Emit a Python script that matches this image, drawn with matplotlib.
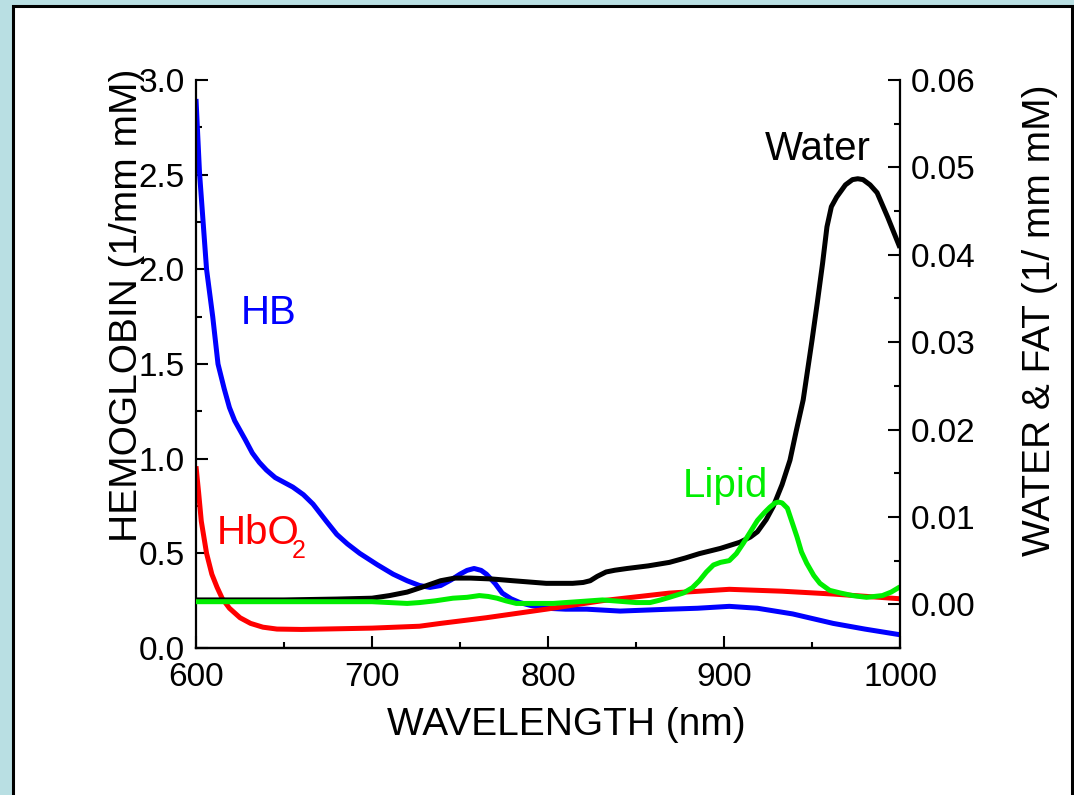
import matplotlib
matplotlib.use('Agg')
import matplotlib.pyplot as plt
from matplotlib.patches import Rectangle
from matplotlib.ticker import MultipleLocator, FormatStrFormatter

plt.rcParams['font.family'] = ['Liberation Sans', 'DejaVu Sans']

# --- Absorption spectra (wavelength in nm) ---
hb_nm = [600, 602, 606, 609.5, 612.5, 616, 619, 622, 625, 628, 632, 636, 640, 645, 649,
         655, 661, 666.5, 674, 680, 686, 693, 703, 712, 720, 727, 733, 739, 745, 750,
         754, 758, 762, 765, 770, 774, 779, 784, 790, 799, 810, 822, 841, 869, 885,
         903, 919, 939, 962, 980, 1000]
hb_val = [2.90, 2.51, 2.00, 1.75, 1.50, 1.37, 1.27, 1.20, 1.15, 1.10, 1.03, 0.98, 0.94,
          0.90, 0.88, 0.85, 0.81, 0.76, 0.67, 0.60, 0.55, 0.50, 0.44, 0.39, 0.355, 0.33,
          0.32, 0.33, 0.36, 0.39, 0.41, 0.42, 0.41, 0.39, 0.34, 0.29, 0.26, 0.24, 0.225,
          0.21, 0.205, 0.205, 0.195, 0.205, 0.21, 0.22, 0.21, 0.18, 0.13, 0.10, 0.07]

hbo2_nm = [600, 601.5, 603, 606, 609, 612, 615, 619, 625, 631, 638, 646, 660, 672,
           700, 727, 739, 765, 799, 831, 869, 903, 933, 962, 1000]
hbo2_val = [0.96, 0.82, 0.67, 0.50, 0.39, 0.32, 0.26, 0.21, 0.16, 0.13, 0.11, 0.10,
            0.098, 0.10, 0.105, 0.115, 0.13, 0.16, 0.205, 0.25, 0.29, 0.31, 0.30, 0.285,
            0.26]

water_nm = [600, 650, 680, 700, 710, 720, 729, 739, 747, 756, 768, 780, 799, 814,
            820, 824, 828, 833, 838, 845, 857, 869, 878, 886, 898, 909, 915, 919, 924,
            928, 933, 937.5, 941, 945, 950, 953, 956, 958.5, 961, 964, 969, 973, 976,
            979, 983, 987, 993, 1000]
water_val = [0.0005, 0.0005, 0.0006, 0.0007, 0.0010, 0.0014, 0.0020, 0.0027, 0.0030,
             0.0030, 0.0029, 0.0027, 0.0024, 0.0024, 0.0025, 0.0027, 0.0032, 0.0037,
             0.0039, 0.0041, 0.0044, 0.0048, 0.0053, 0.0058, 0.0064, 0.0071, 0.0077,
             0.0083, 0.0097, 0.0112, 0.0137, 0.0165, 0.0198, 0.0234, 0.0302, 0.0345,
             0.0390, 0.0432, 0.0455, 0.0466, 0.0480, 0.0486, 0.0487, 0.0486, 0.0480,
             0.0471, 0.0443, 0.0408]

lipid_nm = [600, 700, 720, 727, 736, 746, 754, 761, 766, 771, 776, 782, 790, 803, 831,
            850, 858, 864, 869, 877, 882, 886, 890, 894, 898, 903, 907, 911, 915, 919,
            923, 926, 929, 931, 933, 936, 938.5, 941.5, 944, 947, 951, 954.5, 960, 966,
            973, 981, 990, 995, 1000]
lipid_val = [0.0003, 0.0003, 0.0001, 0.0002, 0.0004, 0.0007, 0.0008, 0.0010, 0.0009,
             0.0007, 0.0004, 0.0001, 0.0001, 0.0001, 0.0005, 0.0002, 0.0002, 0.0005,
             0.0008, 0.0013, 0.0019, 0.0027, 0.0037, 0.0045, 0.0048, 0.0050, 0.0058,
             0.0070, 0.0083, 0.0096, 0.0105, 0.0111, 0.0116, 0.0117, 0.0116, 0.0110,
             0.0095, 0.0077, 0.0060, 0.0047, 0.0033, 0.0024, 0.0016, 0.0013, 0.0010,
             0.0008, 0.0010, 0.0014, 0.0020]

LW = 3.6

fig = plt.figure(figsize=(10.74, 7.95), dpi=100, facecolor='#b9dfe3')
# white slide panel with a dark border
fig.add_artist(Rectangle((13 / 1074, -0.02), 1059 / 1074, 789 / 795 + 0.02,
                         transform=fig.transFigure, facecolor='white',
                         edgecolor='black', linewidth=2.2, zorder=-10))

ax = fig.add_axes([196 / 1074, 147 / 795, 704 / 1074, 568 / 795])
ax.patch.set_visible(False)
ax2 = ax.twinx()

style = dict(lw=LW, solid_joinstyle='round', solid_capstyle='butt')
ax.plot(hb_nm, hb_val, color='#0000ff', **style)
ax.plot(hbo2_nm, hbo2_val, color='#ff0000', **style)
ax2.plot(water_nm, water_val, color='black', **style)
ax2.plot(lipid_nm, lipid_val, color='#00ee00', **style)

ax.set_xlim(600, 1000)
ax.set_ylim(0, 3.0)
ax2.set_ylim(-0.005, 0.06)

ax.xaxis.set_major_locator(MultipleLocator(100))
ax.xaxis.set_minor_locator(MultipleLocator(50))
ax.yaxis.set_major_locator(MultipleLocator(0.5))
ax.yaxis.set_minor_locator(MultipleLocator(0.25))
ax.yaxis.set_major_formatter(FormatStrFormatter('%.1f'))
ax2.yaxis.set_major_locator(MultipleLocator(0.01))
ax2.yaxis.set_minor_locator(MultipleLocator(0.005))
ax2.yaxis.set_major_formatter(FormatStrFormatter('%.2f'))

for a in (ax, ax2):
    a.spines['top'].set_visible(False)
    for s in a.spines.values():
        s.set_linewidth(1.6)
    a.tick_params(which='major', direction='in', length=8.5, width=1.5,
                  labelsize=24, pad=8)
    a.tick_params(which='minor', direction='in', length=4.3, width=1.5)
ax.spines['right'].set_visible(False)
ax2.spines['left'].set_visible(False)
ax.tick_params(which='both', top=False, right=False)
ax.tick_params(axis='x', pad=10)

ax.set_xlabel('WAVELENGTH (nm)', fontsize=28)
ax.xaxis.set_label_coords(0.526, -0.104)
ax.set_ylabel('HEMOGLOBIN (1/mm mM)', fontsize=28)
ax.yaxis.label.set_va('baseline')
ax.yaxis.set_label_coords(-0.084, 0.604)
ax2.set_ylabel('WATER & FAT (1/ mm mM)', fontsize=28, rotation=90)
ax2.yaxis.label.set_va('baseline')
ax2.yaxis.set_label_coords(1.213, 0.577)

# curve labels
ax.text(641, 1.77, 'HB', color='#0000ff', fontsize=29, ha='center', va='center')
ax.text(612, 0.55, 'HbO', color='#ff0000', fontsize=29, ha='left', va='baseline')
ax.text(654.5, 0.476, '2', color='#ff0000', fontsize=18, ha='left', va='baseline')
ax2.text(923.3, 0.0509, 'Water', color='black', fontsize=29, ha='left', va='baseline')
ax2.text(876.7, 0.01226, 'Lipid', color='#00ee00', fontsize=29, ha='left', va='baseline')

fig.savefig('out.png', dpi=100, facecolor=fig.get_facecolor())
